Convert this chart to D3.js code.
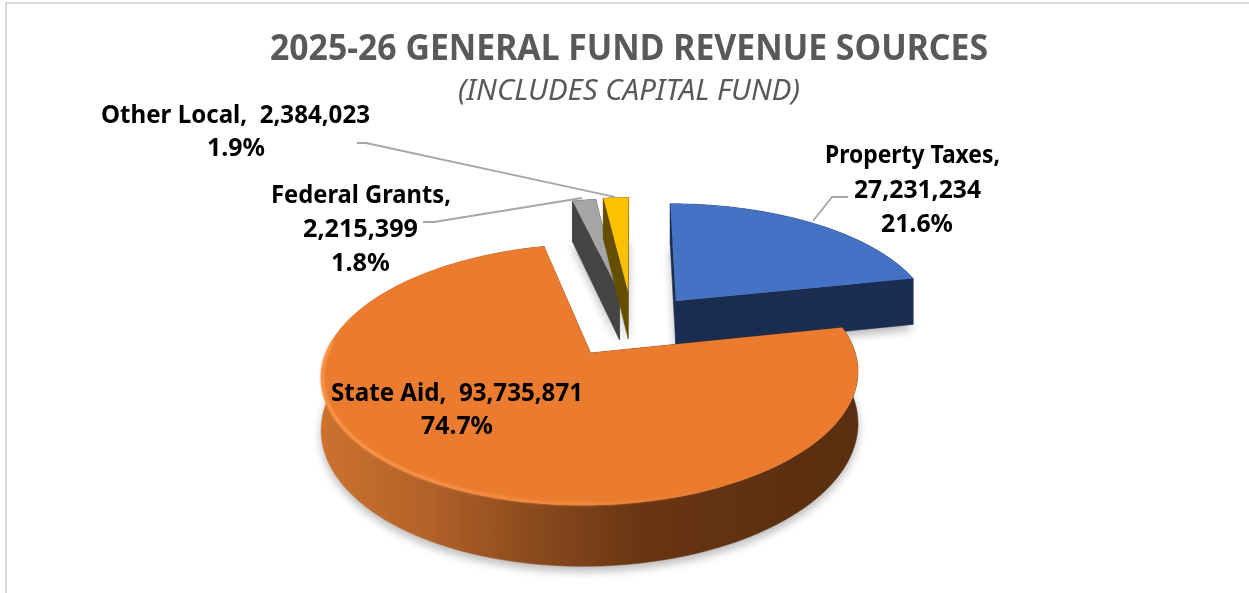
<!DOCTYPE html>
<html><head><meta charset="utf-8">
<script src="https://cdnjs.cloudflare.com/ajax/libs/d3/7.8.5/d3.min.js"></script>
<style>html,body{margin:0;padding:0;background:#fff}svg{display:block}text{font-family:"Noto Sans",sans-serif}</style>
</head><body><svg id="c" width="1249" height="593"></svg>
<script>
const categories=["Property Taxes","State Aid","Federal Grants","Other Local"];
const values=[27231234,93735871,2215399,2384023];
const topColors=["#4472c4","#ea7b2f","#a5a5a5","#ffc000"];
const sideColors=["#1a2d50","#8a4a1c","#444444","#654e00"];
const radiusFactor=[1.02,1,1,1];
const sliceNudge=[[2,2],[-3,2],[-1,0],[0,-1]];
const titleText="2025-26 GENERAL FUND REVENUE SOURCES";
const subtitleText="(INCLUDES CAPITAL FUND)";
// label lines: text, left, right, baseline
const labelLines=[
 ["Other Local,  2,384,023",101,370,123],["1.9%",207,265,156],
 ["Federal Grants,",271,451,203],["2,215,399",303,418,237],["1.8%",331,390,271],
 ["Property Taxes,",825,1000,163],["27,231,234",854,981,198],["21.6%",881,953,232],
 ["State Aid,  93,735,871",331,583,401],["74.7%",421,493,434]];
const leaders=[[[813,221],[832,197],[848,197]],[[357,143],[366,143],[615,197]],[[423,222],[434,222],[582,198]]];

const svg=d3.select("#c");
const defs=svg.append("defs");
defs.append("filter").attr("id","sh").attr("x","-20%").attr("y","-20%").attr("width","140%").attr("height","140%")
 .append("feGaussianBlur").attr("stdDeviation",5);
defs.append("filter").attr("id","gl").attr("x","-10%").attr("y","-10%").attr("width","120%").attr("height","120%")
 .append("feGaussianBlur").attr("stdDeviation",1.3);
const wallGrad=defs.append("linearGradient").attr("id","oWall").attr("gradientUnits","userSpaceOnUse")
 .attr("x1",322).attr("x2",860).attr("y1",0).attr("y2",0);
[[0,"#cc722e"],[.2,"#b3622a"],[.4,"#8a4a1c"],[.6,"#693513"],[.85,"#5e3012"],[1,"#5a2e10"]]
 .forEach(s=>wallGrad.append("stop").attr("offset",s[0]).attr("stop-color",s[1]));
const rimGrad=defs.append("linearGradient").attr("id","oRim").attr("gradientUnits","userSpaceOnUse")
 .attr("x1",322).attr("x2",760).attr("y1",0).attr("y2",0);
[[0,"#ff9a4d",1],[.6,"#f68f45",.8],[1,"#ea7b2f",0]]
 .forEach(s=>rimGrad.append("stop").attr("offset",s[0]).attr("stop-color",s[1]).attr("stop-opacity",s[2]));

// frame
svg.append("line").attr("x1",6).attr("x2",6).attr("y1",2).attr("y2",593).attr("stroke","#d9d9d9").attr("stroke-width",2);
svg.append("line").attr("x1",6).attr("x2",1249).attr("y1",3).attr("y2",3).attr("stroke","#d9d9d9").attr("stroke-width",2);

// projection of the tilted pie
const R=255,Ry=118,persp=.16,explode=.27,H=49;
const sx=d3.scaleLinear().domain([-1,1]).range([632-R,632+R]);
const sy=d3.scaleLinear().domain([-1,1]).range([323-Ry,323+Ry]);
function proj(X,Y,down){const f=1/(1-persp*Y);return [sx(X*f),sy(Y*f)+(down?H*f:0)];}
const pie=d3.pie().sort(null).value(d=>d)(values);
const line=d3.line();
const slices=pie.map((p,i)=>{
 const mid=(p.startAngle+p.endAngle)/2,ox=Math.sin(mid)*explode,oy=-Math.cos(mid)*explode;
 const angs=d3.range(0,121).map(k=>p.startAngle+(p.endAngle-p.startAngle)*k/120);
 const rf=radiusFactor[i];
 const rim=angs.map(a=>[ox+rf*Math.sin(a),oy-rf*Math.cos(a)]);
 return {i,ox,oy,rim};
});
const P=(pts,d)=>pts.map(q=>proj(q[0],q[1],d));
const nudge=i=>`translate(${sliceNudge[i][0]},${sliceNudge[i][1]})`;

// shadows
const shG=svg.append("g").attr("filter","url(#sh)").attr("opacity",.28);
slices.forEach(s=>{
 const poly=[[s.ox,s.oy],...s.rim];
 shG.append("path").attr("d",line(P(poly,true))+"Z").attr("fill","#000")
  .attr("transform",`translate(${sliceNudge[s.i][0]},${sliceNudge[s.i][1]+5})`);
});

const order=[0,2,3,1];
order.forEach(i=>{
 const s=slices[i],g=svg.append("g").attr("transform",nudge(i));
 const side=i===1?"url(#oWall)":sideColors[i];
 const apex=[s.ox,s.oy];
 // cut faces
 [s.rim[0],s.rim[s.rim.length-1]].forEach(q=>{
  g.append("path").attr("d",line([...P([apex,q],false),...P([q,apex],true)])+"Z").attr("fill",side).attr("stroke",side).attr("stroke-width",.5);
 });
 // outer wall
 g.append("path").attr("d",line([...P(s.rim,false),...P(s.rim.slice().reverse(),true)])+"Z").attr("fill",side).attr("stroke",side).attr("stroke-width",.5);
 // top
 g.append("path").attr("d",line(P([apex,...s.rim],false))+"Z").attr("fill",topColors[i]);
 if(i===1){
  const front=s.rim.filter(q=>q[1]>s.oy-.1&&q[0]<s.ox+.75);
  g.append("path").attr("d",line(P(front.map(q=>[s.ox+(q[0]-s.ox)*.996,s.oy+(q[1]-s.oy)*.992]),false)))
   .attr("fill","none").attr("stroke","url(#oRim)").attr("stroke-width",3).attr("filter","url(#gl)");
 }
});

// leaders
leaders.forEach(l=>svg.append("path").attr("d",line(l)).attr("fill","none").attr("stroke","#a6a6a6").attr("stroke-width",1.8));

// text
svg.append("text").text(titleText).attr("x",270).attr("y",60).attr("font-size",35).attr("font-weight",700).attr("fill","#595959")
 .attr("textLength",718).attr("lengthAdjust","spacingAndGlyphs");
svg.append("text").text(subtitleText).attr("x",458).attr("y",100).attr("font-size",29).attr("font-style","italic").attr("fill","#595959")
 .attr("textLength",342).attr("lengthAdjust","spacingAndGlyphs");
labelLines.forEach(l=>svg.append("text").text(l[0]).attr("x",l[1]).attr("y",l[3]).attr("font-size",25).attr("font-weight",700).attr("fill","#000")
 .style("white-space","pre").attr("xml:space","preserve").attr("textLength",l[2]-l[1]).attr("lengthAdjust","spacingAndGlyphs"));
</script></body></html>
